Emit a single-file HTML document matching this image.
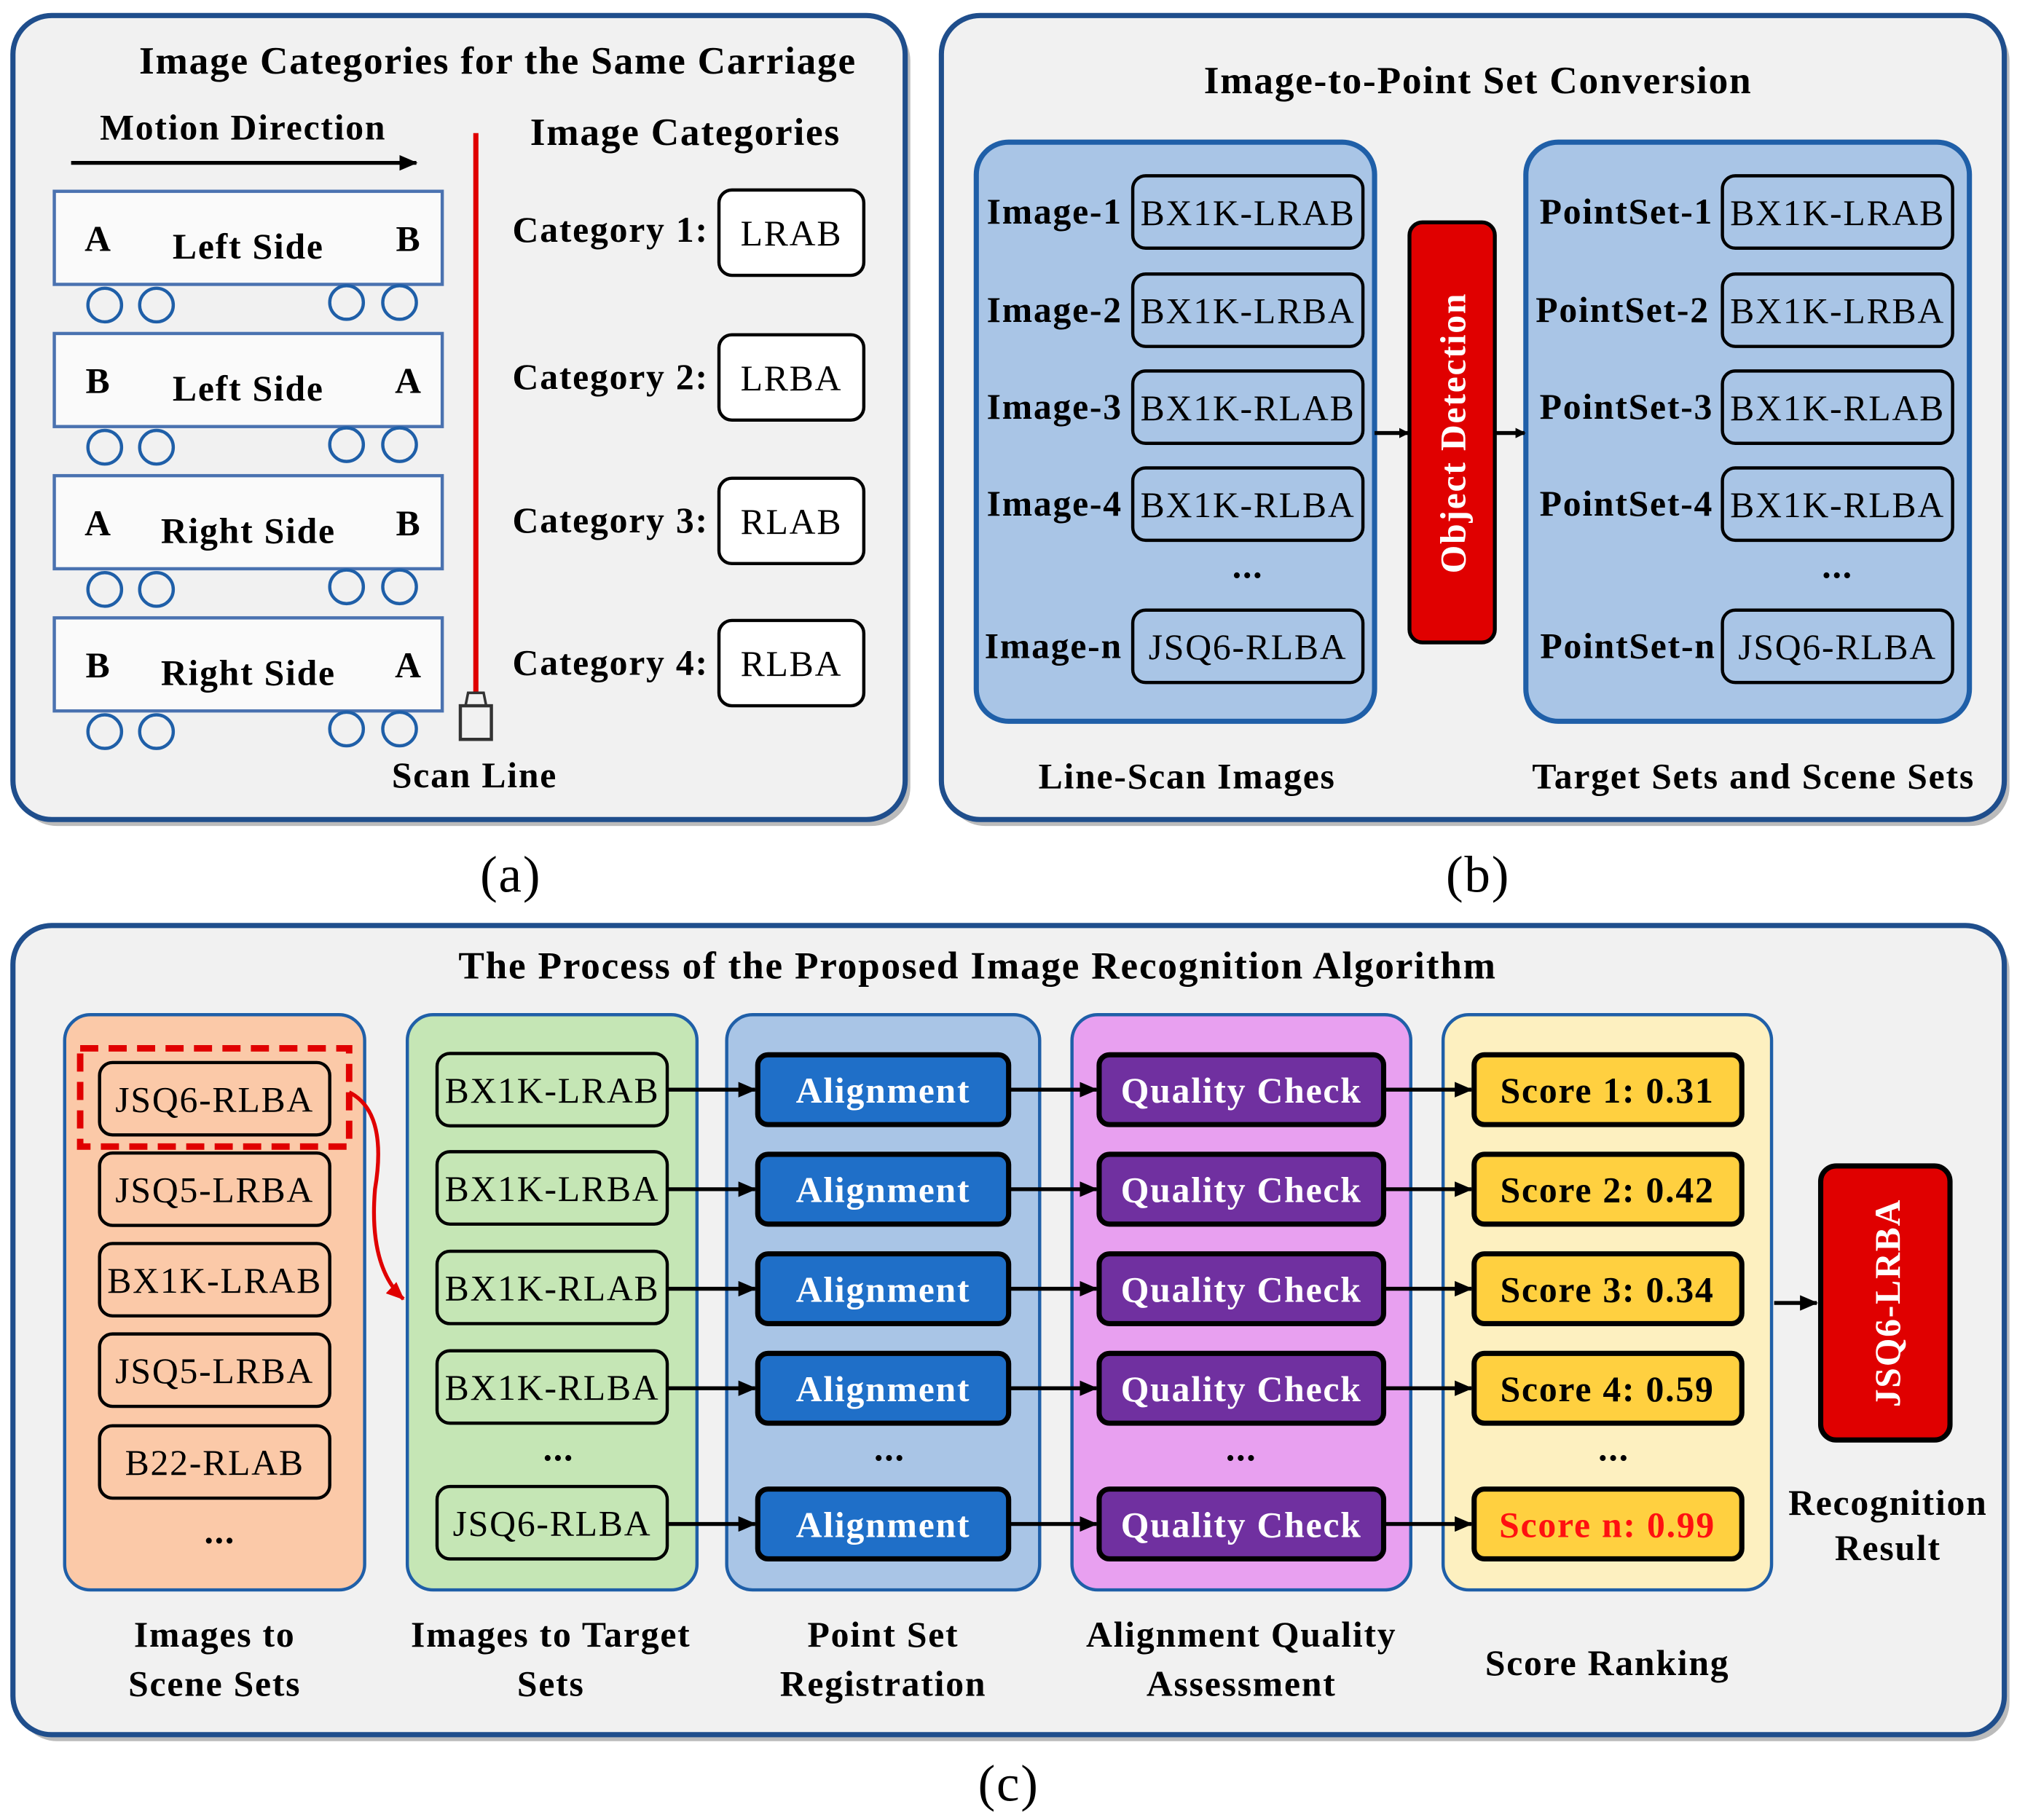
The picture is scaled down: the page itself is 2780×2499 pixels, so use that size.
<!DOCTYPE html>
<html><head><meta charset="utf-8"><style>
html,body{margin:0;padding:0;background:#fff}
svg{display:block}
text{font-family:"Liberation Serif",serif;letter-spacing:1px}
.b{font-weight:bold}
</style></head><body>
<svg width="2780" height="2499" viewBox="0 0 1566 1408" preserveAspectRatio="none" xmlns="http://www.w3.org/2000/svg">
<defs>
<marker id="ah" markerWidth="8" markerHeight="8" refX="7" refY="4" orient="auto" markerUnits="userSpaceOnUse"><path d="M0,0 L8,4 L0,8 Z" fill="#000"/></marker>
<marker id="ah2" markerWidth="14" markerHeight="12" refX="13" refY="6" orient="auto" markerUnits="userSpaceOnUse"><path d="M0,0 L14,6 L0,12 Z" fill="#000"/></marker>
<marker id="ahr" markerWidth="14" markerHeight="12" refX="13" refY="6" orient="auto" markerUnits="userSpaceOnUse"><path d="M0,0 L14,6 L0,12 Z" fill="#e00000"/></marker>
</defs>
<g fill="#bbb"><rect x="14" y="17" width="690" height="622" rx="30"/><rect x="732" y="17" width="822" height="622" rx="30"/><rect x="14" y="721" width="1540" height="626" rx="30"/></g>
<g fill="#f1f1f1" stroke="#1f4e8c" stroke-width="4">
<rect x="10" y="12" width="690" height="622" rx="30"/>
<rect x="728" y="12" width="822" height="622" rx="30"/>
<rect x="10" y="716" width="1540" height="626" rx="30"/>
</g>
<!-- panel a -->
<g font-size="30" text-anchor="middle">
<text x="385" y="57" class="b">Image Categories for the Same Carriage</text>
<text x="188" y="108" font-size="28" class="b">Motion Direction</text>
<text x="530" y="112" class="b">Image Categories</text>
<text x="367" y="609" font-size="28" class="b">Scan Line</text>
</g>
<line x1="55" y1="126" x2="322" y2="126" stroke="#000" stroke-width="3" marker-end="url(#ah2)"/>
<g font-size="28" text-anchor="middle">
<g transform="translate(0,148)"><rect x="42" y="0" width="300" height="72" fill="#fafafa" stroke="#4a72b0" stroke-width="2.5"/><text x="76" y="46" class="b">A</text><text x="192" y="52" class="b">Left Side</text><text x="316" y="46" class="b">B</text><g fill="none" stroke="#1f5fa8" stroke-width="2.5"><circle cx="81" cy="88" r="13"/><circle cx="121" cy="88" r="13"/><circle cx="268" cy="86" r="13"/><circle cx="309" cy="86" r="13"/></g></g>
<g transform="translate(0,258)"><rect x="42" y="0" width="300" height="72" fill="#fafafa" stroke="#4a72b0" stroke-width="2.5"/><text x="76" y="46" class="b">B</text><text x="192" y="52" class="b">Left Side</text><text x="316" y="46" class="b">A</text><g fill="none" stroke="#1f5fa8" stroke-width="2.5"><circle cx="81" cy="88" r="13"/><circle cx="121" cy="88" r="13"/><circle cx="268" cy="86" r="13"/><circle cx="309" cy="86" r="13"/></g></g>
<g transform="translate(0,368)"><rect x="42" y="0" width="300" height="72" fill="#fafafa" stroke="#4a72b0" stroke-width="2.5"/><text x="76" y="46" class="b">A</text><text x="192" y="52" class="b">Right Side</text><text x="316" y="46" class="b">B</text><g fill="none" stroke="#1f5fa8" stroke-width="2.5"><circle cx="81" cy="88" r="13"/><circle cx="121" cy="88" r="13"/><circle cx="268" cy="86" r="13"/><circle cx="309" cy="86" r="13"/></g></g>
<g transform="translate(0,478)"><rect x="42" y="0" width="300" height="72" fill="#fafafa" stroke="#4a72b0" stroke-width="2.5"/><text x="76" y="46" class="b">B</text><text x="192" y="52" class="b">Right Side</text><text x="316" y="46" class="b">A</text><g fill="none" stroke="#1f5fa8" stroke-width="2.5"><circle cx="81" cy="88" r="13"/><circle cx="121" cy="88" r="13"/><circle cx="268" cy="86" r="13"/><circle cx="309" cy="86" r="13"/></g></g>
</g>
<line x1="368" y1="103" x2="368" y2="535" stroke="#e00000" stroke-width="4"/>
<path d="M362,536 L374,536 L376,546 L360,546 Z" fill="none" stroke="#333" stroke-width="2"/>
<rect x="356" y="546" width="24" height="26" fill="none" stroke="#333" stroke-width="2.5"/>
<g font-size="28">
<text x="548" y="187" text-anchor="end" class="b">Category 1:</text>
<text x="548" y="301" text-anchor="end" class="b">Category 2:</text>
<text x="548" y="412" text-anchor="end" class="b">Category 3:</text>
<text x="548" y="522" text-anchor="end" class="b">Category 4:</text>
<g fill="#fff" stroke="#000" stroke-width="2.5"><rect x="556" y="147" width="112" height="66" rx="10"/><rect x="556" y="259" width="112" height="66" rx="10"/><rect x="556" y="370" width="112" height="66" rx="10"/><rect x="556" y="480" width="112" height="66" rx="10"/></g>
<g text-anchor="middle"><text x="612" y="190">LRAB</text><text x="612" y="302">LRBA</text><text x="612" y="413">RLAB</text><text x="612" y="523">RLBA</text></g>
</g>
<!-- panel b -->
<text x="1143" y="72" font-size="30" class="b" text-anchor="middle">Image-to-Point Set Conversion</text>
<g fill="#a9c5e6" stroke="#1f5fa8" stroke-width="4"><rect x="755" y="110" width="308" height="448" rx="25"/><rect x="1180" y="110" width="343" height="448" rx="25"/></g>
<g font-size="28">
<g fill="none" stroke="#000" stroke-width="2.5">
<rect x="876" y="136" width="178" height="56" rx="10"/><rect x="876" y="212" width="178" height="56" rx="10"/><rect x="876" y="287" width="178" height="56" rx="10"/><rect x="876" y="362" width="178" height="56" rx="10"/><rect x="876" y="472" width="178" height="56" rx="10"/>
<rect x="1332" y="136" width="178" height="56" rx="10"/><rect x="1332" y="212" width="178" height="56" rx="10"/><rect x="1332" y="287" width="178" height="56" rx="10"/><rect x="1332" y="362" width="178" height="56" rx="10"/><rect x="1332" y="472" width="178" height="56" rx="10"/>
</g>
<g text-anchor="end" class="b" letter-spacing="0"><text x="868" y="173" class="b">Image-1</text><text x="868" y="249" class="b">Image-2</text><text x="868" y="324" class="b">Image-3</text><text x="868" y="399" class="b">Image-4</text><text x="868" y="509" class="b">Image-n</text>
<text x="1325" y="173" class="b">PointSet-1</text><text x="1322" y="249" class="b">PointSet-2</text><text x="1325" y="324" class="b">PointSet-3</text><text x="1325" y="399" class="b">PointSet-4</text><text x="1327" y="509" class="b">PointSet-n</text></g>
<g text-anchor="middle"><text x="965" y="174">BX1K-LRAB</text><text x="965" y="250">BX1K-LRBA</text><text x="965" y="325">BX1K-RLAB</text><text x="965" y="400">BX1K-RLBA</text><text x="965" y="447" class="b">...</text><text x="965" y="510">JSQ6-RLBA</text>
<text x="1421" y="174">BX1K-LRAB</text><text x="1421" y="250">BX1K-LRBA</text><text x="1421" y="325">BX1K-RLAB</text><text x="1421" y="400">BX1K-RLBA</text><text x="1421" y="447" class="b">...</text><text x="1421" y="510">JSQ6-RLBA</text>
<text x="918" y="610" class="b">Line-Scan Images</text><text x="1356" y="610" class="b">Target Sets and  Scene Sets</text></g>
</g>
<rect x="1090" y="172" width="66" height="325" rx="10" fill="#e00000" stroke="#000" stroke-width="3"/>
<text transform="translate(1133,335) rotate(-90)" font-size="28" fill="#fff" class="b" text-anchor="middle">Object Detection</text>
<line x1="1063" y1="335" x2="1089" y2="335" stroke="#000" stroke-width="3" marker-end="url(#ah)"/>
<line x1="1156" y1="335" x2="1179" y2="335" stroke="#000" stroke-width="3" marker-end="url(#ah)"/>
<g font-size="40" text-anchor="middle"><text x="395" y="690">(a)</text><text x="1143" y="690">(b)</text><text x="780" y="1393">(c)</text></g>
<!-- panel c -->
<text x="756" y="757" font-size="30" class="b" text-anchor="middle">The Process of the Proposed Image Recognition Algorithm</text>
<g stroke="#1f5fa8" stroke-width="2.5">
<rect x="50" y="785" width="232" height="445" rx="20" fill="#fbc9a8"/>
<rect x="315" y="785" width="224" height="445" rx="20" fill="#c5e6b5"/>
<rect x="562" y="785" width="242" height="445" rx="20" fill="#a9c5e6"/>
<rect x="829" y="785" width="262" height="445" rx="20" fill="#e8a0f0"/>
<rect x="1116" y="785" width="254" height="445" rx="20" fill="#fdf0c0"/>
</g>
<g font-size="28" text-anchor="middle">
<g fill="none" stroke="#000" stroke-width="2.5">
<rect x="77" y="822" width="178" height="56" rx="10"/><rect x="77" y="892" width="178" height="56" rx="10"/><rect x="77" y="962" width="178" height="56" rx="10"/><rect x="77" y="1032" width="178" height="56" rx="10"/><rect x="77" y="1103" width="178" height="56" rx="10"/>
<rect x="338" y="815" width="178" height="56" rx="10"/><rect x="338" y="891" width="178" height="56" rx="10"/><rect x="338" y="968" width="178" height="56" rx="10"/><rect x="338" y="1045" width="178" height="56" rx="10"/><rect x="338" y="1150" width="178" height="56" rx="10"/>
</g>
<text x="166" y="860">JSQ6-RLBA</text><text x="166" y="930">JSQ5-LRBA</text><text x="166" y="1000">BX1K-LRAB</text><text x="166" y="1070">JSQ5-LRBA</text><text x="166" y="1141">B22-RLAB</text><text x="170" y="1194" class="b">...</text>
<text x="427" y="853">BX1K-LRAB</text><text x="427" y="929">BX1K-LRBA</text><text x="427" y="1006">BX1K-RLAB</text><text x="427" y="1083">BX1K-RLBA</text><text x="432" y="1130" class="b">...</text><text x="427" y="1188">JSQ6-RLBA</text>
</g>
<rect x="62" y="811" width="208" height="76" fill="none" stroke="#e00000" stroke-width="5" stroke-dasharray="14,8"/>
<path d="M270,845 Q300,860 290,920 Q285,980 312,1005" fill="none" stroke="#e00000" stroke-width="3" marker-end="url(#ahr)"/>
<g stroke="#000" stroke-width="4">
<g fill="#1f6fc8"><rect x="586" y="816" width="194" height="54" rx="8"/><rect x="586" y="893" width="194" height="54" rx="8"/><rect x="586" y="970" width="194" height="54" rx="8"/><rect x="586" y="1047" width="194" height="54" rx="8"/><rect x="586" y="1152" width="194" height="54" rx="8"/></g>
<g fill="#7030a0"><rect x="850" y="816" width="220" height="54" rx="8"/><rect x="850" y="893" width="220" height="54" rx="8"/><rect x="850" y="970" width="220" height="54" rx="8"/><rect x="850" y="1047" width="220" height="54" rx="8"/><rect x="850" y="1152" width="220" height="54" rx="8"/></g>
<g fill="#ffd040"><rect x="1140" y="816" width="207" height="54" rx="8"/><rect x="1140" y="893" width="207" height="54" rx="8"/><rect x="1140" y="970" width="207" height="54" rx="8"/><rect x="1140" y="1047" width="207" height="54" rx="8"/><rect x="1140" y="1152" width="207" height="54" rx="8"/></g>
</g>
<g stroke="#000" stroke-width="3" marker-end="url(#ah2)">
<line x1="516" y1="843" x2="584" y2="843"/><line x1="516" y1="920" x2="584" y2="920"/><line x1="516" y1="997" x2="584" y2="997"/><line x1="516" y1="1074" x2="584" y2="1074"/><line x1="516" y1="1179" x2="584" y2="1179"/>
<line x1="780" y1="843" x2="848" y2="843"/><line x1="780" y1="920" x2="848" y2="920"/><line x1="780" y1="997" x2="848" y2="997"/><line x1="780" y1="1074" x2="848" y2="1074"/><line x1="780" y1="1179" x2="848" y2="1179"/>
<line x1="1070" y1="843" x2="1138" y2="843"/><line x1="1070" y1="920" x2="1138" y2="920"/><line x1="1070" y1="997" x2="1138" y2="997"/><line x1="1070" y1="1074" x2="1138" y2="1074"/><line x1="1070" y1="1179" x2="1138" y2="1179"/>
<line x1="1372" y1="1008" x2="1405" y2="1008"/>
</g>
<g font-size="28" text-anchor="middle" class="b">
<g fill="#fff"><text x="683" y="853" class="b">Alignment</text><text x="683" y="930" class="b">Alignment</text><text x="683" y="1007" class="b">Alignment</text><text x="683" y="1084" class="b">Alignment</text><text x="683" y="1189" class="b">Alignment</text>
<text x="960" y="853" class="b">Quality  Check</text><text x="960" y="930" class="b">Quality Check</text><text x="960" y="1007" class="b">Quality Check</text><text x="960" y="1084" class="b">Quality Check</text><text x="960" y="1189" class="b">Quality Check</text></g>
<text x="1243" y="853" class="b">Score 1: 0.31</text><text x="1243" y="930" class="b">Score 2: 0.42</text><text x="1243" y="1007" class="b">Score 3: 0.34</text><text x="1243" y="1084" class="b">Score 4: 0.59</text><text x="1243" y="1189" fill="#ff1010" class="b">Score n: 0.99</text>
<text x="688" y="1130" class="b">...</text><text x="960" y="1130" class="b">...</text><text x="1248" y="1130" class="b">...</text>
<text x="166" y="1274" class="b">Images to</text><text x="166" y="1312" class="b">Scene Sets</text>
<text x="426" y="1274" class="b">Images to Target</text><text x="426" y="1312" class="b">Sets</text>
<text x="683" y="1274" class="b">Point Set</text><text x="683" y="1312" class="b">Registration</text>
<text x="960" y="1274" class="b">Alignment Quality</text><text x="960" y="1312" class="b">Assessment</text>
<text x="1243" y="1296" class="b">Score Ranking</text>
<text x="1460" y="1172" class="b">Recognition</text><text x="1460" y="1207" class="b">Result</text>
</g>
<rect x="1408" y="902" width="100" height="212" rx="12" fill="#e00000" stroke="#000" stroke-width="4"/>
<text transform="translate(1469,1008) rotate(-90)" font-size="28" fill="#fff" class="b" text-anchor="middle">JSQ6-LRBA</text>
</svg>
</body></html>
